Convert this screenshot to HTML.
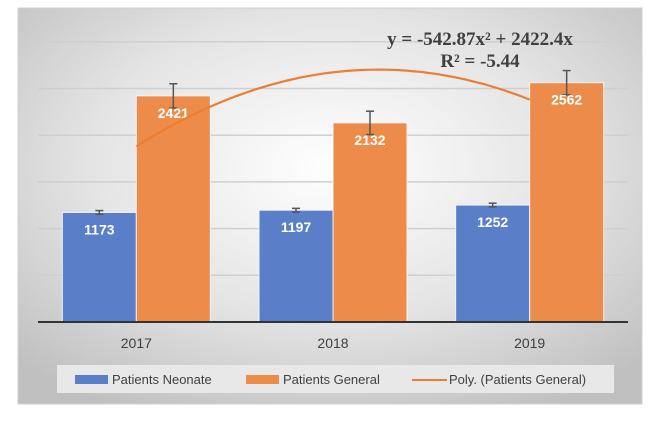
<!DOCTYPE html>
<html><head><meta charset="utf-8"><style>
body{margin:0;background:#fff;width:663px;height:429px;overflow:hidden}
svg{display:block;font-family:"Liberation Sans",sans-serif}
</style></head><body>
<svg id="chart" width="663" height="429">
<defs><radialGradient id="bg" cx="50%" cy="40%" r="70%"><stop offset="0" stop-color="#ffffff"/><stop offset="0.55" stop-color="#e4e4e4"/><stop offset="1" stop-color="#c0c0c0"/></radialGradient></defs>
<rect x="18" y="8" width="624" height="396" fill="url(#bg)" stroke="#d0d0d0"/>
<g id="grid"></g><g id="bars"></g><g id="trend"></g>
<text x="480" y="45" text-anchor="middle" font-family="Liberation Serif,serif" font-weight="bold" font-size="19" fill="#404040">y = -542.87x² + 2422.4x</text>
<text x="480" y="67" text-anchor="middle" font-family="Liberation Serif,serif" font-weight="bold" font-size="19" fill="#404040">R² = -5.44</text>
<g>
<rect x="57" y="365" width="557" height="28" fill="#e8e8e8"/>
<rect x="75" y="375" width="33" height="9" fill="#5a7fc8"/>
<text x="112" y="384" font-size="13" fill="#404040">Patients Neonate</text>
<rect x="246" y="375" width="33" height="9" fill="#ec8b4a"/>
<text x="283" y="384" font-size="13" fill="#404040">Patients General</text>
<line x1="412" y1="380" x2="447" y2="380" stroke="#ed7d31" stroke-width="2"/>
<text x="449" y="384" font-size="13" fill="#404040">Poly. (Patients General)</text>
</g>
</svg>
<script>
const categories=["2017","2018","2019"];
const neonate=[1173,1197,1252];
const general=[2421,2132,2562];
const neonateErr=[20,20,20];
const generalErr=[130,125,130];
const polyA=-542.87, polyB=2422.4;
const ticks=[0,500,1000,1500,2000,2500,3000];
const NS="http://www.w3.org/2000/svg";
const L=38,R=628,base=322,k=0.0934;
const catW=(R-L)/categories.length;
const y=v=>base-v*k;
const cx=i=>L+catW*(i+0.5);
function mk(t,a,p){const e=document.createElementNS(NS,t);for(const n in a)e.setAttribute(n,a[n]);(p||document.getElementById('chart')).appendChild(e);return e;}
const grid=document.getElementById('grid');
ticks.forEach(t=>{if(t===0)return;const l=mk('line',{x1:L,x2:R,y1:y(t),y2:y(t),stroke:'#cfcfcf','stroke-width':1.5},grid);

});
const bars=document.getElementById('bars');
const bw=74;
categories.forEach((c,i)=>{
 const x0=cx(i)-bw;
 [[neonate,neonateErr,'#5a7fc8','neonate',x0],[general,generalErr,'#ec8b4a','general',x0+bw]].forEach(([s,e,col,nm,x])=>{
  const v=s[i];
  const r=mk('rect',{x:x,y:y(v),width:bw,height:v*k,fill:col,stroke:'#f4f4f4','stroke-width':1},bars);
  
  
  const ex=x+bw/2;
  const g=mk('g',{stroke:'#555','stroke-width':1.5},bars);
  
  
  mk('line',{x1:ex,x2:ex,y1:y(v+e[i]),y2:y(v-e[i])},g);
  mk('line',{x1:ex-4,x2:ex+4,y1:y(v+e[i]),y2:y(v+e[i])},g);
  mk('line',{x1:ex-4,x2:ex+4,y1:y(v-e[i]),y2:y(v-e[i])},g);
  const t=mk('text',{x:ex,y:y(v)+22,'text-anchor':'middle','font-size':14,'font-weight':'bold',fill:'#fff'},bars);
  t.textContent=v;
  
  
 });
 const lab=mk('text',{x:cx(i),y:348,'text-anchor':'middle','font-size':14,fill:'#404040'});
 lab.textContent=c;
 
 
});
const ax=mk('line',{x1:L,x2:R,y1:base,y2:base,stroke:'#333','stroke-width':2});


let d='';
for(let s=0;s<=60;s++){const xv=1+2*s/60;const px=cx(0)+(xv-1)*catW;const py=y(polyA*xv*xv+polyB*xv);d+=(s?'L':'M')+px.toFixed(1)+' '+py.toFixed(1);}
const tr=mk('path',{d:d,fill:'none',stroke:'#ed7d31','stroke-width':2.2},document.getElementById('trend'));


</script>
</body></html>
